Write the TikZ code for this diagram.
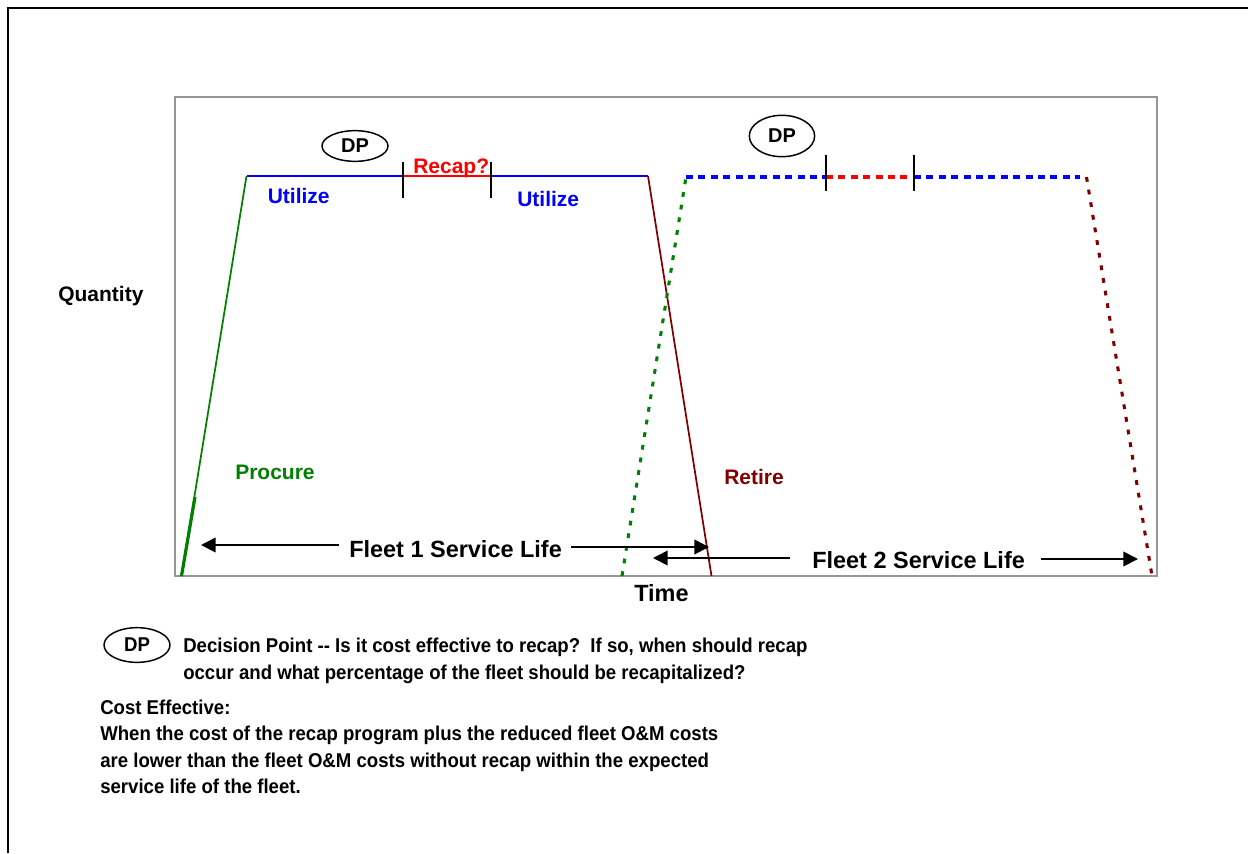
\documentclass[tikz,border=0pt]{standalone}
\usepackage{fontspec}
\setmainfont{Liberation Sans}
\newfontfamily\legendfont[FakeStretch=0.93]{Liberation Sans}
\usetikzlibrary{arrows.meta,shapes.geometric}
\definecolor{fgreen}{RGB}{0,128,0}
\definecolor{fblue}{RGB}{0,0,255}
\definecolor{fred}{RGB}{255,0,0}
\definecolor{fdarkred}{RGB}{128,0,0}
\definecolor{boxgray}{RGB}{150,150,150}
\tikzset{
  solidline/.style={line width=1.3pt},
  dotline/.style={line width=2.3pt, dash pattern=on 3.6pt off 6pt},
  dashline/.style={line width=2.4pt, dash pattern=on 5.3pt off 4pt},
  tickmark/.style={line width=1.1pt, black},
  lbl/.style={inner sep=0pt, anchor=base west, font=\bfseries\fontsize{15.75}{18}\selectfont},
  biglbl/.style={inner sep=0pt, anchor=base west, font=\bfseries\fontsize{17.6}{20}\selectfont},
  legend/.style={inner sep=0pt, anchor=base west, font=\legendfont\bfseries\fontsize{15}{18}\selectfont},
  dpnode/.style={ellipse, draw, line width=1.1pt, inner sep=0pt, font=\bfseries\fontsize{15}{18}\selectfont},
  spanarrow/.style={line width=1.3pt, -{Triangle[length=11pt,width=11pt]}}
}
\begin{document}
\begin{tikzpicture}[x=0.75pt,y=-0.75pt]
\useasboundingbox (0,0) rectangle (1248,853);
% outer frame
\draw[line width=1.6pt] (8,853) -- (8,8) -- (1250,8);
% plot box
\draw[boxgray, line width=1.5pt] (175,97) rectangle (1157,576);

% ---- Fleet 1 ----
\coordinate (f1a) at (181.5,576);
\coordinate (f1t) at (195,497);
\coordinate (f1b) at (246.5,176);
\coordinate (f1r1) at (403,176);
\coordinate (f1r2) at (491,176);
\coordinate (f1c) at (648,176);
\coordinate (f1d) at (711.5,576);
\draw[fgreen, solidline] (f1a) -- (f1b);
\draw[fgreen, line width=2.4pt] (f1a) -- (f1t);
\draw[fblue, solidline] (f1b) -- (f1r1);
\draw[fred, solidline] (f1r1) -- (f1r2);
\draw[fblue, solidline] (f1r2) -- (f1c);
\draw[fdarkred, solidline] (f1c) -- (f1d);
\draw[tickmark] (403,162) coordinate (t1a) -- (403,198) coordinate (t1b);
\draw[tickmark] (491,162) coordinate (t2a) -- (491,198) coordinate (t2b);

% ---- Fleet 2 ----
\coordinate (f2a) at (622,576);
\coordinate (f2b) at (686,177);
\coordinate (f2r1) at (826,177);
\coordinate (f2r2) at (914,177);
\coordinate (f2c) at (1086.5,177);
\coordinate (f2d) at (1152,576);
\draw[fgreen, dotline] (f2a) -- (f2b);
\draw[fblue, dashline] (f2b) -- (f2r1);
\draw[fred, dashline] (f2r1) -- (f2r2);
\draw[fblue, dashline] (f2r2) -- (1080,177);
\draw[fdarkred, dotline] (f2c) -- (f2d);
\draw[tickmark] (826,155) coordinate (t3a) -- (826,191) coordinate (t3b);
\draw[tickmark] (914,155) coordinate (t4a) -- (914,191) coordinate (t4b);

% decision points
\node[dpnode, minimum width=49.5pt, minimum height=23pt] (dp1) at (355,146) {DP};
\node[dpnode, minimum width=49pt, minimum height=31pt] (dp2) at (782,136) {DP};

% labels
\node[lbl, text=fred] (recap) at (413,173) {Recap?};
\node[lbl, text=fblue] (util1) at (267.5,203) {Utilize};
\node[lbl, text=fblue] (util2) at (517,206) {Utilize};
\node[lbl, text=fgreen] (procure) at (235,479.5) {Procure};
\node[lbl, text=fdarkred] (retire) at (724,484) {Retire};
\node[lbl] (quantity) at (58,301) {Quantity};
\node[biglbl] (time) at (634,601) {Time};

% service life spans
\node[biglbl] (sl1) at (349,557.5) {Fleet 1 Service Life};
\coordinate (sl1l) at (201,545);
\coordinate (sl1r) at (709,547);
\draw[spanarrow] (339,545) coordinate (sl1ls) -- (sl1l);
\draw[spanarrow] (571,547) coordinate (sl1rs) -- (sl1r);

\node[biglbl] (sl2) at (812,568.5) {Fleet 2 Service Life};
\coordinate (sl2l) at (653,558);
\coordinate (sl2r) at (1138,559);
\draw[spanarrow] (790,558) coordinate (sl2ls) -- (sl2l);
\draw[spanarrow] (1041,559) coordinate (sl2rs) -- (sl2r);

% legend
\node[dpnode, font=\legendfont\bfseries\fontsize{15}{18}\selectfont, minimum width=49.5pt, minimum height=26pt] (dpl) at (137,645) {DP};
\node[legend] (leg1) at (183,652) {Decision Point -- Is it cost effective to recap?\ \ If so, when should recap};
\node[legend] (leg2) at (183,679) {occur and what percentage of the fleet should be recapitalized?};
\node[legend] (ce0) at (100,714) {Cost Effective:};
\node[legend] (ce1) at (100,740) {When the cost of the recap program plus the reduced fleet O\&M costs};
\node[legend] (ce2) at (100,767) {are lower than the fleet O\&M costs without recap within the expected};
\node[legend] (ce3) at (100,793) {service life of the fleet.};
\end{tikzpicture}
\end{document}
